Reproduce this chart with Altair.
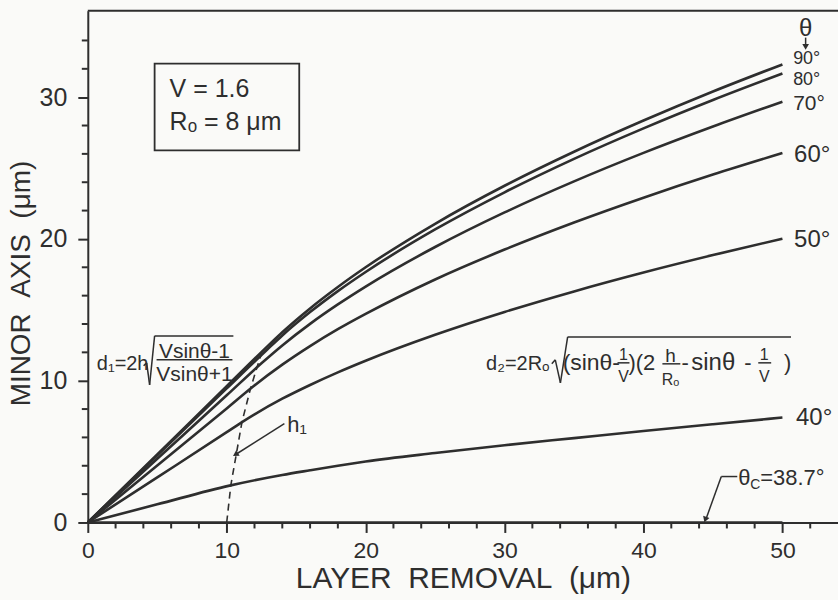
import altair as alt
import pandas as pd

# ---------------- data ----------------
theta_names = ["90°", "80°", "70°", "60°", "50°", "40°", "38.7°"]

h_90 = [0, 5, 10, 13, 14, 16, 18, 20, 25, 30, 35, 40, 45, 50]
d_90 = [0, 4.80, 9.61, 12.49, 13.42, 15.10, 16.61, 18.00, 21.07, 23.75, 26.15, 28.35, 30.40, 32.31]

h_80 = [0, 5, 10, 12.9, 14, 16, 18, 20, 25, 30, 35, 40, 45, 50]
d_80 = [0, 4.73, 9.46, 12.18, 13.19, 14.84, 16.32, 17.67, 20.67, 23.29, 25.65, 27.80, 29.80, 31.67]

h_70 = [0, 5, 10, 12.5, 14, 16, 18, 20, 25, 30, 35, 40, 45, 50]
d_70 = [0, 4.49, 8.97, 11.23, 12.49, 14.01, 15.38, 16.64, 19.43, 21.87, 24.06, 26.07, 27.93, 29.68]

h_60 = [0, 5, 10, 11.9, 14, 16, 18, 20, 25, 30, 35, 40, 45, 50]
d_60 = [0, 4.02, 8.04, 9.59, 11.13, 12.44, 13.63, 14.71, 17.14, 19.25, 21.16, 22.91, 24.54, 26.06]

h_50 = [0, 5, 10, 11.1, 14, 16, 18, 20, 25, 30, 35, 40, 45, 50]
d_50 = [0, 3.18, 6.37, 7.08, 8.73, 9.70, 10.59, 11.41, 13.24, 14.85, 16.30, 17.63, 18.86, 20.02]

h_40 = [0, 5, 10.2, 14, 16, 18, 20, 25, 30, 35, 40, 45, 50]
d_40 = [0, 1.28, 2.60, 3.35, 3.68, 4.00, 4.30, 4.90, 5.45, 5.95, 6.45, 6.93, 7.40]

h_c = [0, 50]
d_c = [0, 0]

# boundary h1 (dashed)
h1_x = [10, 10.3, 11.1, 11.7, 12.1, 12.5]
h1_y = [0, 2.65, 7.1, 9.4, 10.7, 11.9]

x_ticks = [0, 10, 20, 30, 40, 50]
y_ticks = [0, 10, 20, 30]
x_minor = [2, 4, 6, 8, 12, 14, 16, 18, 22, 24, 26, 28, 32, 34, 36, 38, 42, 44, 46, 48, 52]
y_minor = [2, 4, 6, 8, 12, 14, 16, 18, 22, 24, 26, 28, 32, 34]

# ---------------- tables ----------------
rows = []
for name, hs, ds in zip(theta_names, [h_90, h_80, h_70, h_60, h_50, h_40, h_c],
                        [d_90, d_80, d_70, d_60, d_50, d_40, d_c]):
    for h, d in zip(hs, ds):
        rows.append({"theta": name, "x": h, "y": d})
curves = pd.DataFrame(rows)
h1 = pd.DataFrame({"x": h1_x, "y": h1_y})

# annotation texts (data coordinates)
txt_left = pd.DataFrame([
    {"x": 50.77, "y": 32.37, "t": "90°", "s": 18},
    {"x": 50.77, "y": 30.89, "t": "80°", "s": 18},
    {"x": 50.77, "y": 29.06, "t": "70°", "s": 21},
    {"x": 50.84, "y": 25.40, "t": "60°", "s": 24},
    {"x": 50.84, "y": 19.42, "t": "50°", "s": 24},
    {"x": 50.98, "y": 6.90, "t": "40°", "s": 24},
    {"x": 5.89, "y": 29.98, "t": "V = 1.6", "s": 25},
    {"x": 5.89, "y": 27.66, "t": "Rₒ = 8 μm", "s": 25},
    {"x": 0.65, "y": 10.77, "t": "d₁=2h", "s": 20},
    {"x": 28.67, "y": 10.77, "t": "d₂=2Rₒ", "s": 20},
    {"x": 34.18, "y": 10.77, "t": "(sinθ-", "s": 23},
    {"x": 38.92, "y": 10.77, "t": ")(2", "s": 22},
    {"x": 42.73, "y": 10.77, "t": "-", "s": 22},
    {"x": 43.44, "y": 10.77, "t": "sinθ", "s": 24},
    {"x": 47.25, "y": 10.77, "t": "-", "s": 22},
    {"x": 50.12, "y": 10.77, "t": ")", "s": 22},
    {"x": 14.36, "y": 6.40, "t": "h₁", "s": 22},
    {"x": 46.82, "y": 2.67, "t": "θ", "s": 22},
    {"x": 47.68, "y": 2.39, "t": "C", "s": 14},
    {"x": 48.40, "y": 2.67, "t": "=38.7°", "s": 22},
])
txt_center = pd.DataFrame([
    {"x": 51.67, "y": 34.30, "t": "θ", "s": 24},
    {"x": 7.68, "y": 11.61, "t": "Vsinθ-1", "s": 21},
    {"x": 7.68, "y": 9.99, "t": "Vsinθ+1", "s": 21},
    {"x": 38.56, "y": 11.47, "t": "1", "s": 16},
    {"x": 38.56, "y": 9.92, "t": "V", "s": 16},
    {"x": 41.94, "y": 11.33, "t": "h", "s": 19},
    {"x": 41.94, "y": 9.71, "t": "Rₒ", "s": 16},
    {"x": 48.69, "y": 11.47, "t": "1", "s": 16},
    {"x": 48.69, "y": 9.92, "t": "V", "s": 16},
])
segs = pd.DataFrame([
    # d1 radical and fraction bar
    {"x": 4.02, "y": 11.05, "x2": 4.24, "y2": 11.26},
    {"x": 4.24, "y": 11.26, "x2": 4.45, "y2": 9.71},
    {"x": 4.45, "y": 9.71, "x2": 4.81, "y2": 13.16},
    {"x": 4.81, "y": 13.16, "x2": 10.48, "y2": 13.16},
    {"x": 4.95, "y": 11.47, "x2": 10.41, "y2": 11.47},
    # d2 radical and fraction bars
    {"x": 33.40, "y": 11.19, "x2": 33.65, "y2": 11.47},
    {"x": 33.65, "y": 11.47, "x2": 34.02, "y2": 9.85},
    {"x": 34.02, "y": 9.85, "x2": 34.54, "y2": 13.09},
    {"x": 34.54, "y": 13.09, "x2": 50.62, "y2": 13.09},
    {"x": 38.13, "y": 11.26, "x2": 38.99, "y2": 11.26},
    {"x": 41.36, "y": 11.19, "x2": 42.65, "y2": 11.19},
    {"x": 48.26, "y": 11.26, "x2": 49.19, "y2": 11.26},
    # h1 arrow
    {"x": 14.15, "y": 6.97, "x2": 10.70, "y2": 4.83},
    # theta_c leader
    {"x": 46.75, "y": 3.24, "x2": 45.60, "y2": 3.24},
    {"x": 45.60, "y": 3.24, "x2": 44.50, "y2": 0.25},
    # theta arrow
    {"x": 51.67, "y": 34.20, "x2": 51.67, "y2": 33.71},
])
heads = pd.DataFrame([
    {"x": 10.63, "y": 4.79, "a": 238},
    {"x": 44.45, "y": 0.20, "a": 200},
    {"x": 51.67, "y": 33.55, "a": 180},
])
box = pd.DataFrame([{"x": 4.81, "x2": 15.22, "y": 26.25, "y2": 32.37}])
xm = pd.DataFrame({"x": x_minor})
ym = pd.DataFrame({"y": y_minor})

# ---------------- chart ----------------
W, H = 752, 513
INK = "#2e2e2e"
FONT = "Liberation Sans, DejaVu Sans"
xs = alt.Scale(domain=[0, 54], nice=False, zero=False)
ys = alt.Scale(domain=[0, 36.1], nice=False, zero=False)

XT = "LAYER\u00a0\u00a0REMOVAL\u00a0\u00a0(μm)"
YT = "MINOR\u00a0\u00a0AXIS\u00a0\u00a0(μm)"
x_axis = alt.Axis(values=x_ticks, title=XT, grid=False,
                  tickSize=10, tickWidth=2, tickColor=INK, domainColor=INK, domainWidth=2,
                  labelFontSize=23, labelColor=INK, labelFont=FONT, labelPadding=7,
                  titleFontSize=30, titleFontWeight="normal", titleColor=INK, titleFont=FONT,
                  titleY=65, titleBaseline="alphabetic", labelFlush=False)
y_axis = alt.Axis(values=y_ticks, title=YT, grid=False,
                  tickSize=10, tickWidth=2, tickColor=INK, domainColor=INK, domainWidth=2,
                  labelFontSize=25, labelColor=INK, labelFont=FONT, labelPadding=11,
                  titleFontSize=28, titleFontWeight="normal", titleColor=INK, titleFont=FONT,
                  titleX=-66, titleY=273, titleBaseline="middle", labelFlush=False)

X = alt.X("x:Q", scale=xs, axis=x_axis, title=XT)
Y = alt.Y("y:Q", scale=ys, axis=y_axis, title=YT)

lines = alt.Chart(curves).mark_line(color=INK, strokeWidth=2.6, interpolate="monotone").encode(
    x=X, y=Y, detail="theta:N")
dashed = alt.Chart(h1).mark_line(color=INK, strokeWidth=1.6, strokeDash=[7, 5]).encode(x=X, y=Y)

tl = alt.Chart(txt_left).mark_text(align="left", baseline="alphabetic", color=INK, font=FONT).encode(
    x=X, y=Y, text="t:N", size=alt.Size("s:Q", scale=None, legend=None))
tc = alt.Chart(txt_center).mark_text(align="center", baseline="alphabetic", color=INK, font=FONT).encode(
    x=X, y=Y, text="t:N", size=alt.Size("s:Q", scale=None, legend=None))
sg = alt.Chart(segs).mark_rule(color=INK, strokeWidth=1.5).encode(x=X, y=Y, x2="x2:Q", y2="y2:Q")
hd = alt.Chart(heads).mark_point(shape="triangle-up", filled=True, size=45, color=INK, opacity=1).encode(
    x=X, y=Y, angle=alt.Angle("a:Q", scale=None))
bx = alt.Chart(box).mark_rect(fill="transparent", stroke=INK, strokeWidth=1.8).encode(
    x=X, x2="x2:Q", y=Y, y2="y2:Q")
xmin = alt.Chart(xm).mark_rule(color=INK, strokeWidth=2).encode(
    x=X, y=alt.value(H), y2=alt.value(H + 6))
ymin = alt.Chart(ym).mark_rule(color=INK, strokeWidth=2).encode(
    y=Y, x=alt.value(0), x2=alt.value(-6))
topline = alt.Chart(box).mark_rule(color=INK, strokeWidth=2).encode(
    x=alt.value(0), x2=alt.value(W), y=alt.value(0))

chart = alt.layer(lines, dashed, bx, sg, hd, tl, tc, xmin, ymin, topline).properties(
    width=W, height=H,
    autosize=alt.AutoSizeParams(type="none"),
    padding={"left": 88, "top": 10, "right": 0, "bottom": 77},
    background="#fafaf8",
).configure_view(strokeWidth=0)

chart.save("out.html", embed_options={"renderer": "svg", "actions": False})
